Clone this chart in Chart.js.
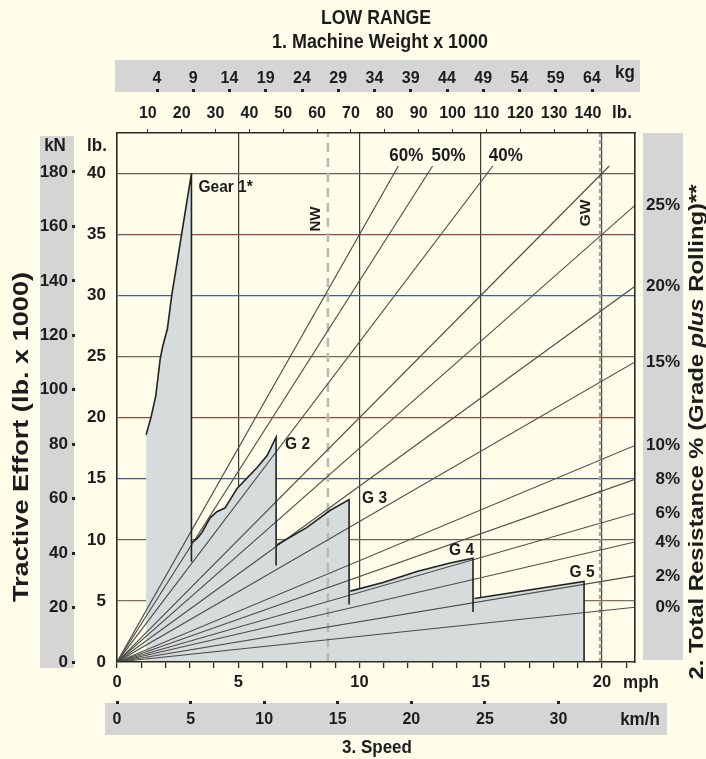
<!DOCTYPE html>
<html><head><meta charset="utf-8">
<script src="https://cdn.jsdelivr.net/npm/chart.js@4.4.0/dist/chart.umd.min.js"></script>
<style>
html,body{margin:0;padding:0;background:#fdfde9;}
#wrap{width:706px;height:759px;position:relative;}
canvas{display:block;}
</style></head><body>
<div id="wrap"><canvas id="c" width="706" height="759"></canvas></div>
<script>
const FONT = "'Liberation Sans', Arial, sans-serif";
const INK = '#1c1c1c';

// ---------------- data ----------------
const speedTicksMph = [0, 5, 10, 15, 20];
const speedMinorMph = [0,1,2,3,4,5,6,7,8,9,10,11,12,13,14,15,16,17,18,19,20,21];
const speedTicksKmh = [0, 5, 10, 15, 20, 25, 30];
const pullTicksLb = [0, 5, 10, 15, 20, 25, 30, 35, 40];
const pullTicksKN = [0, 20, 40, 60, 80, 100, 120, 140, 160, 180];
const weightTicksLb = [10, 20, 30, 40, 50, 60, 70, 80, 90, 100, 110, 120, 130, 140];
const weightTicksKg = [4, 9, 14, 19, 24, 29, 34, 39, 44, 49, 54, 59, 64];

// total resistance lines (rimpull in lb x 1000 read at 10 mph)
const gradeLabels = ['60%', '50%', '40%', '30%', '25%', '20%', '15%', '10%', '8%', '6%', '4%', '2%', '0%'];
const gradePullAt10 = [35.0, 31.2, 26.2, 20.0, 17.5, 14.4, 11.5, 8.3, 7.0, 5.7, 4.6, 3.3, 2.1];
const gradeLabelSide = ['top', 'top', 'top', 'none', 'right', 'right', 'right', 'right', 'right', 'right', 'right', 'right', 'right'];
const gradeTopPull = 40.6;

// rimpull curves per gear (speed mph, rimpull lb x 1000)
const gearNames = ['Gear 1*', 'G 2', 'G 3', 'G 4', 'G 5'];
const gear1Speed = [1.20, 1.40, 1.60, 1.78, 1.88, 2.08, 2.27, 2.47, 2.68, 3.07];
const gear1Pull  = [18.6, 20.0, 21.8, 24.8, 25.8, 27.3, 30.2, 32.6, 35.2, 40.0];
const gear2Speed = [3.10, 3.30, 3.50, 3.84, 4.12, 4.45, 4.95, 5.77, 6.19, 6.56];
const gear2Pull  = [9.8, 10.1, 10.6, 11.8, 12.3, 12.6, 14.2, 15.9, 16.9, 18.4];
const gear3Speed = [6.60, 7.82, 8.78, 9.57];
const gear3Pull  = [9.6, 11.0, 12.4, 13.3];
const gear4Speed = [9.62, 10.97, 12.37, 13.73, 14.68];
const gear4Pull  = [5.8, 6.5, 7.4, 8.1, 8.5];
const gear5Speed = [14.74, 19.26];
const gear5Pull  = [5.2, 6.6];
const gearDropTo = [8.2, 7.9, 4.7, 4.1, 0];

// machine weights marked on the top axis (lb x 1000)
const nwWeight = 63.2;
const gwWeight = 143.6;

// axis ranges
const mphMax = 21.36, pullMax = 43.3;
const lbAxisMin = 0.9, lbAxisMax = 153.9;
const kgAxisMin = -1.52, kgAxisMax = 69.93;
const kmhMax = 35.2, kNMax = 194.3;

// ---------------- build datasets ----------------
const gearSpeeds = [gear1Speed, gear2Speed, gear3Speed, gear4Speed, gear5Speed];
const gearPulls = [gear1Pull, gear2Pull, gear3Pull, gear4Pull, gear5Pull];

const datasets = [];
gearSpeeds.forEach((sp, i) => {
  const pts = sp.map((s, k) => ({x: s, y: gearPulls[i][k]}));
  pts.push({x: sp[sp.length - 1], y: gearDropTo[i]});
  datasets.push({label: gearNames[i], data: pts, borderColor: '#222', borderWidth: 1.6,
    pointRadius: 0, fill: false, tension: 0, order: 0, xAxisID: 'x', yAxisID: 'y'});
});
gradePullAt10.forEach((p, i) => {
  const slope = p / 10;
  let xe = mphMax, ye = slope * mphMax;
  if (ye > gradeTopPull) { ye = gradeTopPull; xe = ye / slope; }
  datasets.push({label: gradeLabels[i], data: [{x: 0, y: 0}, {x: xe, y: ye}], borderColor: '#4d4d49',
    borderWidth: 1.15, pointRadius: 0, fill: false, order: 1, xAxisID: 'x', yAxisID: 'y'});
});
const envelope = [{x: gear1Speed[0], y: 0}];
gearSpeeds.forEach((sp, i) => sp.forEach((s, k) => envelope.push({x: s, y: gearPulls[i][k]})));
envelope.push({x: gear5Speed[gear5Speed.length - 1], y: 0});
datasets.push({label: 'area', data: envelope, borderWidth: 0, pointRadius: 0, fill: 'origin',
  backgroundColor: '#d6dcdb', order: 3, xAxisID: 'x', yAxisID: 'y'});
datasets.push({label: 'NW', data: [{x: nwWeight, y: 0}, {x: nwWeight, y: pullMax}], borderColor: '#b9b9b0',
  borderWidth: 2.5, borderDash: [9, 6], pointRadius: 0, fill: false, order: 2, xAxisID: 'xLb', yAxisID: 'y'});
datasets.push({label: 'GW', data: [{x: gwWeight, y: 0}, {x: gwWeight, y: pullMax}], borderColor: '#a3a39c',
  borderWidth: 2.5, borderDash: [4, 3], pointRadius: 0, fill: false, order: 2, xAxisID: 'xLb', yAxisID: 'y'});

const rightTicks = [];
gradePullAt10.forEach((p, i) => { if (gradeLabelSide[i] === 'right') rightTicks.push({value: p / 10 * mphMax, label: gradeLabels[i]}); });

const hGridColor = {5: '#8c6a55', 10: '#6f6552', 15: '#45558f', 20: '#9a4a3a', 25: '#74664f', 30: '#4a5f8f', 35: '#8a4a55', 40: '#5f5f55'};
const f = (size, weight) => ({family: FONT, size: size, weight: weight || 'bold'});

// ---------------- decorations plugin ----------------
const decor = {
  id: 'decor',
  beforeDraw(chart) {
    const c = chart.ctx;
    c.save();
    c.fillStyle = '#fdfde9';
    c.fillRect(0, 0, chart.width, chart.height);
    c.fillStyle = '#d5d6d4';
    c.fillRect(115, 60, 525, 32);
    c.fillRect(40, 136, 34, 532);
    c.fillRect(643, 133, 40, 527);
    c.fillRect(105, 703, 562, 32);
    c.restore();
  },
  afterDraw(chart) {
    const c = chart.ctx, sx = chart.scales.x, sy = chart.scales.y;
    c.save();
    c.fillStyle = INK;
    c.textBaseline = 'middle';
    const txt = (t, x, y, size, align, opts) => {
      opts = opts || {};
      c.save();
      c.translate(x, y);
      if (opts.rot) c.rotate(opts.rot);
      c.font = (opts.weight || 'bold') + ' ' + size + 'px ' + FONT;
      const w = c.measureText(t).width;
      const kx = opts.len ? opts.len / w : 1;
      c.scale(kx, opts.ky || 1.12);
      c.textAlign = align || 'center';
      c.fillText(t, 0, 0);
      c.restore();
    };
    txt('LOW RANGE', 376, 18, 18, 'center', {len: 110});
    txt('1. Machine Weight x 1000', 380, 43, 17.5, 'center', {len: 216});
    txt('kg', 625, 73, 17);
    txt('lb.', 622, 113, 17);
    txt('kN', 55, 146, 17);
    txt('lb.', 97, 146, 17);
    txt('mph', 641, 683, 17);
    txt('km/h', 640, 720, 17);
    txt('3. Speed', 377, 748, 17);
    txt('Tractive Effort (lb. x 1000)', 22, 437, 23, 'center', {rot: -Math.PI / 2, len: 330, ky: 0.95});
    // right title with italic "plus"
    c.save(); c.translate(698, 432); c.rotate(-Math.PI / 2);
    const parts = [['2. Total Resistance % (Grade ', 'bold'], ['plus', 'italic bold'], [' Rolling)**', 'bold']];
    let total = 0;
    parts.forEach(p => { c.font = p[1] + ' 21px ' + FONT; total += c.measureText(p[0]).width; });
    const k = 495 / total;
    c.scale(k, 0.92);
    let px = -total / 2;
    parts.forEach(p => { c.font = p[1] + ' 21px ' + FONT; c.textAlign = 'left'; c.fillText(p[0], px, 0); px += c.measureText(p[0]).width; });
    c.restore();
    // NW / GW labels
    const sLb = chart.scales.xLb;
    txt('NW', sLb.getPixelForValue(nwWeight) - 12, 219, 15, 'center', {rot: -Math.PI / 2, len: 25, ky: 1});
    txt('GW', sLb.getPixelForValue(gwWeight) - 14, 213, 15, 'center', {rot: -Math.PI / 2, len: 27, ky: 1});
    // top grade labels
    const topOffs = [8, 16, 13];
    let ti = 0;
    gradePullAt10.forEach((p, i) => {
      if (gradeLabelSide[i] !== 'top') return;
      const xe = gradeTopPull / (p / 10);
      txt(gradeLabels[i], sx.getPixelForValue(xe) + topOffs[ti++], sy.top + 23, 17);
    });
    // gear labels
    const offs = [[7, 14, 'left'], [9, 7, 'left'], [13, -1, 'left'], [1, -8, 'right'], [-2, -9, 'center']];
    gearSpeeds.forEach((sp, i) => {
      const px2 = sx.getPixelForValue(sp[sp.length - 1]);
      const py2 = sy.getPixelForValue(gearPulls[i][gearPulls[i].length - 1]);
      txt(gearNames[i], px2 + offs[i][0], py2 + offs[i][1], 15.5, offs[i][2]);
    });
    c.restore();
  }
};

new Chart(document.getElementById('c'), {
  type: 'line',
  data: {datasets},
  plugins: [decor],
  options: {
    responsive: false, animation: false, devicePixelRatio: 1,
    parsing: false, normalized: true,
    layout: {padding: {left: 0, top: 0, bottom: 0, right: 26}},
    plugins: {legend: {display: false}, tooltip: {enabled: false}, title: {display: false}},
    elements: {line: {tension: 0}},
    scales: {
      x: {
        type: 'linear', position: 'bottom', min: 0, max: mphMax,
        afterBuildTicks: s => { s.ticks = speedMinorMph.map(v => ({value: v})); },
        ticks: {callback: v => speedTicksMph.includes(v) ? String(v) : '', font: f(16.5), color: INK,
          padding: 5, autoSkip: false, maxRotation: 0},
        grid: {color: ctx => (ctx.tick && ctx.tick.value > 0 && speedTicksMph.includes(ctx.tick.value)) ? '#3a3a3a' : 'rgba(0,0,0,0)',
          tickColor: '#2a2a2a', tickLength: 6, lineWidth: 1.2, tickWidth: 1.3},
        border: {color: '#2a2a2a', width: 1.6, z: 1},
        afterFit: s => { s.height = 39; }
      },
      xKmh: {
        type: 'linear', position: 'bottom', min: 0, max: kmhMax,
        afterBuildTicks: s => { s.ticks = speedTicksKmh.map(v => ({value: v})); },
        ticks: {font: f(16), color: INK, padding: 6, autoSkip: false, maxRotation: 0},
        grid: {drawOnChartArea: false, color: 'rgba(0,0,0,0)', tickColor: '#222', tickLength: 3, tickWidth: 3},
        border: {display: false},
        afterFit: s => { s.height = 58; }
      },
      y: {
        type: 'linear', position: 'left', min: 0, max: pullMax,
        afterBuildTicks: s => { s.ticks = pullTicksLb.map(v => ({value: v})); },
        ticks: {font: f(17), color: INK, padding: 11, autoSkip: false},
        grid: {color: ctx => (ctx.tick && hGridColor[ctx.tick.value]) || 'rgba(0,0,0,0)', drawTicks: false, lineWidth: 1.2},
        border: {color: '#2a2a2a', width: 1.6, z: 1},
        afterFit: s => { s.width = 42; }
      },
      yKN: {
        type: 'linear', position: 'left', min: 0, max: kNMax,
        afterBuildTicks: s => { s.ticks = pullTicksKN.map(v => ({value: v})); },
        ticks: {font: f(17), color: INK, padding: 4, autoSkip: false},
        grid: {drawOnChartArea: false, color: 'rgba(0,0,0,0)', tickColor: '#222', tickLength: 3, tickWidth: 3},
        border: {display: false},
        afterFit: s => { s.width = 75; }
      },
      xLb: {
        type: 'linear', position: 'top', min: lbAxisMin, max: lbAxisMax,
        afterBuildTicks: s => { s.ticks = weightTicksLb.map(v => ({value: v})); },
        ticks: {font: f(16), color: INK, padding: 6, autoSkip: false, maxRotation: 0},
        grid: {drawOnChartArea: false, color: 'rgba(0,0,0,0)', tickColor: '#333', tickLength: 4, tickWidth: 1},
        border: {color: '#2a2a2a', width: 1.6, z: 1},
        afterFit: s => { s.height = 41; }
      },
      xKg: {
        type: 'linear', position: 'top', min: kgAxisMin, max: kgAxisMax,
        afterBuildTicks: s => { s.ticks = weightTicksKg.map(v => ({value: v})); },
        ticks: {font: f(16), color: INK, padding: 1, autoSkip: false, maxRotation: 0},
        grid: {drawOnChartArea: false, color: 'rgba(0,0,0,0)', tickColor: '#222', tickLength: 3, tickWidth: 3},
        border: {display: false},
        afterFit: s => { s.height = 92; }
      },
      yPct: {
        type: 'linear', position: 'right', min: 0, max: pullMax,
        afterBuildTicks: s => { s.ticks = rightTicks.map(t => ({value: t.value})); },
        ticks: {font: f(17), color: INK, padding: 10, crossAlign: 'far', autoSkip: false,
          callback: (v) => { const t = rightTicks.find(r => Math.abs(r.value - v) < 1e-6); return t ? t.label : ''; }},
        grid: {drawOnChartArea: false, drawTicks: false, color: 'rgba(0,0,0,0)'},
        border: {color: '#2a2a2a', width: 1.6, z: 1},
        afterFit: s => { s.width = 45; }
      }
    }
  }
});
</script>
</body></html>
